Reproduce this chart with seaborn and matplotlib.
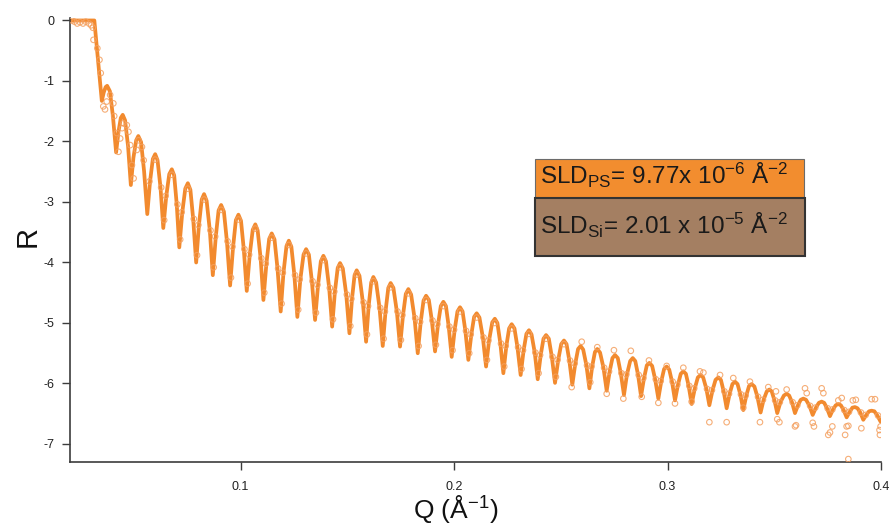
import matplotlib
matplotlib.use("Agg")
import matplotlib.pyplot as plt
from matplotlib.patches import Rectangle
import seaborn as sns
import pandas as pd

# ---------------- data ----------------
# fit curve: plateau, then per fringe: minimum, two rising points, maximum, two falling points
fit_q = [0.0201, 0.0315,
         0.0350, 0.0359, 0.0368, 0.0375, 0.0388, 0.0402,
         0.0417, 0.0428, 0.0439, 0.0448, 0.0459, 0.0473,
         0.0486, 0.0498, 0.0511, 0.0521, 0.0534, 0.0548,
         0.0563, 0.0576, 0.0589, 0.0600, 0.0611, 0.0625,
         0.0638, 0.0652, 0.0666, 0.0678, 0.0689, 0.0701,
         0.0713, 0.0727, 0.0741, 0.0753, 0.0765, 0.0778,
         0.0792, 0.0805, 0.0818, 0.0829, 0.0841, 0.0856,
         0.0870, 0.0884, 0.0897, 0.0909, 0.0922, 0.0936,
         0.0951, 0.0965, 0.0978, 0.0990, 0.1002, 0.1015,
         0.1029, 0.1043, 0.1057, 0.1069, 0.1080, 0.1094,
         0.1107, 0.1121, 0.1134, 0.1146, 0.1159, 0.1173,
         0.1188, 0.1201, 0.1215, 0.1226, 0.1238, 0.1252,
         0.1266, 0.1280, 0.1295, 0.1307, 0.1320, 0.1334,
         0.1349, 0.1363, 0.1376, 0.1388, 0.1400, 0.1415,
         0.1429, 0.1442, 0.1455, 0.1466, 0.1479, 0.1495,
         0.1510, 0.1522, 0.1534, 0.1544, 0.1557, 0.1573,
         0.1588, 0.1600, 0.1612, 0.1622, 0.1635, 0.1651,
         0.1666, 0.1679, 0.1692, 0.1703, 0.1716, 0.1732,
         0.1747, 0.1761, 0.1774, 0.1786, 0.1799, 0.1815,
         0.1830, 0.1844, 0.1857, 0.1869, 0.1882, 0.1896,
         0.1911, 0.1925, 0.1938, 0.1950, 0.1962, 0.1975,
         0.1989, 0.2003, 0.2016, 0.2028, 0.2040, 0.2053,
         0.2067, 0.2081, 0.2094, 0.2106, 0.2119, 0.2135,
         0.2150, 0.2164, 0.2179, 0.2191, 0.2203, 0.2217,
         0.2231, 0.2245, 0.2258, 0.2270, 0.2283, 0.2297,
         0.2312, 0.2326, 0.2339, 0.2351, 0.2363, 0.2378,
         0.2392, 0.2406, 0.2419, 0.2431, 0.2444, 0.2458,
         0.2473, 0.2488, 0.2502, 0.2515, 0.2527, 0.2540,
         0.2554, 0.2568, 0.2581, 0.2593, 0.2605, 0.2620,
         0.2634, 0.2647, 0.2660, 0.2671, 0.2684, 0.2700,
         0.2715, 0.2729, 0.2742, 0.2754, 0.2767, 0.2781,
         0.2796, 0.2810, 0.2825, 0.2837, 0.2849, 0.2862,
         0.2876, 0.2890, 0.2903, 0.2915, 0.2928, 0.2942,
         0.2957, 0.2971, 0.2984, 0.2996, 0.3008, 0.3021,
         0.3035, 0.3049, 0.3062, 0.3074, 0.3086, 0.3099,
         0.3113, 0.3128, 0.3142, 0.3155, 0.3167, 0.3182,
         0.3196, 0.3211, 0.3225, 0.3238, 0.3250, 0.3263,
         0.3277, 0.3291, 0.3304, 0.3316, 0.3328, 0.3341,
         0.3355, 0.3369, 0.3382, 0.3394, 0.3407, 0.3421,
         0.3436, 0.3450, 0.3465, 0.3477, 0.3488, 0.3501,
         0.3514, 0.3529, 0.3545, 0.3558, 0.3570, 0.3583,
         0.3597, 0.3611, 0.3624, 0.3636, 0.3649, 0.3665,
         0.3680, 0.3695, 0.3709, 0.3722, 0.3734, 0.3747,
         0.3761, 0.3775, 0.3788, 0.3800, 0.3812, 0.3825,
         0.3839, 0.3853, 0.3866, 0.3878, 0.3890, 0.3903,
         0.3917, 0.3931, 0.3944, 0.3956, 0.3969, 0.3983,
         0.3998]
fit_r = [0.00, 0.00,
         -1.33, -1.19, -1.10, -1.08, -1.17, -1.58,
         -2.18, -1.84, -1.61, -1.56, -1.65, -2.08,
         -2.72, -2.27, -1.98, -1.91, -2.01, -2.49,
         -3.20, -2.66, -2.29, -2.21, -2.31, -2.76,
         -3.43, -2.90, -2.54, -2.46, -2.56, -3.04,
         -3.75, -3.17, -2.78, -2.69, -2.80, -3.28,
         -4.00, -3.38, -2.96, -2.87, -2.98, -3.47,
         -4.21, -3.57, -3.14, -3.05, -3.16, -3.65,
         -4.38, -3.74, -3.30, -3.21, -3.31, -3.78,
         -4.47, -3.87, -3.46, -3.37, -3.47, -3.93,
         -4.62, -4.02, -3.61, -3.52, -3.62, -4.10,
         -4.81, -4.17, -3.73, -3.64, -3.74, -4.21,
         -4.90, -4.28, -3.87, -3.78, -3.87, -4.31,
         -4.95, -4.37, -3.98, -3.89, -3.98, -4.42,
         -5.06, -4.48, -4.09, -4.01, -4.10, -4.53,
         -5.17, -4.60, -4.21, -4.13, -4.22, -4.66,
         -5.31, -4.72, -4.33, -4.24, -4.33, -4.75,
         -5.38, -4.81, -4.42, -4.34, -4.42, -4.81,
         -5.39, -4.87, -4.52, -4.44, -4.53, -4.92,
         -5.50, -4.98, -4.63, -4.55, -4.62, -4.96,
         -5.47, -5.02, -4.72, -4.65, -4.72, -5.06,
         -5.56, -5.11, -4.81, -4.74, -4.81, -5.13,
         -5.61, -5.19, -4.90, -4.84, -4.91, -5.24,
         -5.72, -5.29, -4.99, -4.93, -5.00, -5.34,
         -5.83, -5.38, -5.09, -5.02, -5.09, -5.40,
         -5.86, -5.45, -5.18, -5.12, -5.19, -5.49,
         -5.93, -5.53, -5.26, -5.20, -5.26, -5.56,
         -5.99, -5.61, -5.35, -5.29, -5.35, -5.62,
         -6.02, -5.67, -5.43, -5.38, -5.44, -5.70,
         -6.08, -5.72, -5.48, -5.43, -5.49, -5.74,
         -6.12, -5.80, -5.58, -5.53, -5.58, -5.83,
         -6.19, -5.85, -5.63, -5.58, -5.63, -5.86,
         -6.21, -5.91, -5.70, -5.66, -5.71, -5.93,
         -6.25, -5.96, -5.76, -5.72, -5.77, -5.97,
         -6.28, -6.02, -5.84, -5.80, -5.84, -6.04,
         -6.34, -6.08, -5.90, -5.86, -5.90, -6.09,
         -6.36, -6.11, -5.94, -5.90, -5.94, -6.13,
         -6.41, -6.17, -6.01, -5.97, -6.01, -6.18,
         -6.44, -6.20, -6.04, -6.01, -6.05, -6.22,
         -6.48, -6.27, -6.13, -6.10, -6.13, -6.28,
         -6.49, -6.31, -6.20, -6.17, -6.20, -6.31,
         -6.49, -6.36, -6.27, -6.25, -6.27, -6.37,
         -6.52, -6.40, -6.32, -6.30, -6.32, -6.41,
         -6.54, -6.43, -6.36, -6.34, -6.36, -6.44,
         -6.56, -6.47, -6.40, -6.39, -6.41, -6.48,
         -6.60, -6.52, -6.46, -6.45, -6.46, -6.53,
         -6.63]

# measured data points (open circles): plateau, edge, extrema and outliers
data_q = [0.0210, 0.0222, 0.0235, 0.0248, 0.0262, 0.0275, 0.0290, 0.0300, 0.0308,
          0.0311, 0.0329, 0.0339, 0.0345, 0.0357, 0.0365, 0.0373, 0.0389, 0.0404,
          0.0408, 0.0420, 0.0428, 0.0436, 0.0445, 0.0451, 0.0467, 0.0475, 0.0483,
          0.0491, 0.0499, 0.0514, 0.0522, 0.0538, 0.0546,
          0.0600, 0.0642, 0.0678, 0.0717, 0.0753, 0.0796, 0.0829, 0.0874, 0.0909,
          0.0955, 0.0990, 0.1033, 0.1069, 0.1111, 0.1146, 0.1192, 0.1226, 0.1270,
          0.1307, 0.1353, 0.1388, 0.1433, 0.1466, 0.1514, 0.1544, 0.1592, 0.1622,
          0.1670, 0.1703, 0.1751, 0.1786, 0.1834, 0.1869, 0.1915, 0.1950, 0.1993,
          0.2028, 0.2071, 0.2106, 0.2154, 0.2191, 0.2235, 0.2270, 0.2316, 0.2351,
          0.2396, 0.2431, 0.2477, 0.2515,
          0.2551, 0.2598, 0.2638, 0.2671, 0.2715, 0.2749, 0.2793, 0.2828, 0.2879,
          0.2913, 0.2957, 0.2996, 0.3035, 0.3074, 0.3113, 0.3152, 0.3168, 0.3196,
          0.3246, 0.3277, 0.3308, 0.3355, 0.3386, 0.3433, 0.3472, 0.3508, 0.3514,
          0.3524, 0.3558, 0.3597, 0.3602, 0.3644, 0.3652, 0.3680, 0.3686, 0.3722,
          0.3730, 0.3753, 0.3761, 0.3772, 0.3800, 0.3816, 0.3832, 0.3839, 0.3847,
          0.3847, 0.3868, 0.3882, 0.3908, 0.3956, 0.3972, 0.3993, 0.3995, 0.3998]
data_r = [0.00, -0.02, -0.05, -0.03, -0.05, -0.02, -0.05, -0.08, -0.12,
          -0.32, -0.46, -0.65, -0.87, -1.42, -1.47, -1.34, -1.23, -1.37,
          -1.58, -1.86, -2.17, -1.95, -1.78, -1.70, -1.73, -1.84, -2.06,
          -2.39, -2.61, -2.14, -1.98, -2.09, -2.31,
          -2.30, -3.30, -2.55, -3.62, -2.78, -3.88, -2.96, -4.08, -3.13,
          -4.25, -3.29, -4.35, -3.44, -4.50, -3.59, -4.68, -3.71, -4.78,
          -3.85, -4.83, -3.96, -4.94, -4.08, -5.05, -4.20, -5.19, -4.31,
          -5.26, -4.41, -5.28, -4.51, -5.38, -4.62, -5.36, -4.72, -5.45,
          -4.81, -5.50, -4.91, -5.61, -5.00, -5.72, -5.09, -5.76, -5.18,
          -5.83, -5.26, -5.89, -5.35,
          -6.06, -5.31, -5.98, -5.40, -6.17, -5.45, -6.25, -5.46, -6.22,
          -5.62, -6.32, -5.71, -6.33, -5.74, -6.30, -5.80, -5.82, -6.64,
          -5.86, -6.64, -5.91, -6.40, -5.97, -6.64, -6.06, -6.13, -6.59,
          -6.64, -6.10, -6.71, -6.69, -6.08, -6.16, -6.65, -6.71, -6.08,
          -6.16, -6.85, -6.81, -6.71, -6.28, -6.24, -6.85, -6.71, -6.70,
          -7.25, -6.28, -6.27, -6.74, -6.26, -6.26, -6.77, -6.85, -6.71]

# measured data points on the fringe flanks
flank_q = [0.0573, 0.0649, 0.0724, 0.0802, 0.0881, 0.0962, 0.1040, 0.1118, 0.1198,
           0.1277, 0.1360, 0.1439, 0.1519, 0.1597, 0.1676, 0.1758, 0.1841, 0.1922,
           0.2000, 0.2078, 0.2161, 0.2242, 0.2323, 0.2403, 0.2485, 0.2565, 0.2644,
           0.2726, 0.2807, 0.2887, 0.2968, 0.3046, 0.3125, 0.3208, 0.3288, 0.3366,
           0.3447, 0.3526, 0.3608, 0.3692, 0.3772, 0.3850, 0.3928,
           0.0628, 0.0704, 0.0781, 0.0859, 0.0939, 0.1018, 0.1097, 0.1176, 0.1255,
           0.1337, 0.1418, 0.1498, 0.1576, 0.1654, 0.1735, 0.1818, 0.1899, 0.1978,
           0.2056, 0.2138, 0.2220, 0.2300, 0.2381, 0.2461, 0.2543, 0.2623, 0.2703,
           0.2784, 0.2865, 0.2945, 0.3024, 0.3102, 0.3185, 0.3266, 0.3344, 0.3424,
           0.3504, 0.3586, 0.3668, 0.3750, 0.3828, 0.3906, 0.3986]
flank_r = [-2.66, -2.90, -3.17, -3.38, -3.57, -3.74, -3.87, -4.02, -4.17,
           -4.28, -4.37, -4.48, -4.60, -4.72, -4.81, -4.87, -4.98, -5.02,
           -5.11, -5.19, -5.29, -5.38, -5.45, -5.53, -5.61, -5.67, -5.72,
           -5.80, -5.85, -5.91, -5.96, -6.02, -6.08, -6.11, -6.17, -6.20,
           -6.27, -6.31, -6.36, -6.40, -6.43, -6.47, -6.52,
           -2.76, -3.04, -3.28, -3.47, -3.65, -3.78, -3.93, -4.10, -4.21,
           -4.31, -4.42, -4.53, -4.66, -4.75, -4.81, -4.92, -4.96, -5.06,
           -5.13, -5.24, -5.34, -5.40, -5.49, -5.56, -5.62, -5.70, -5.74,
           -5.83, -5.86, -5.93, -5.97, -6.04, -6.09, -6.13, -6.18, -6.22,
           -6.28, -6.31, -6.37, -6.41, -6.44, -6.48, -6.53]

x_ticks = [0.1, 0.2, 0.3, 0.4]
x_tick_labels = ["0.1", "0.2", "0.3", "0.4"]
y_ticks = [0, -1, -2, -3, -4, -5, -6, -7]
y_tick_labels = ["0", "-1", "-2", "-3", "-4", "-5", "-6", "-7"]

box_texts = [r"SLD$_{\mathrm{PS}}$= 9.77x 10$^{-6}$ Å$^{-2}$",
             r"SLD$_{\mathrm{Si}}$= 2.01 x 10$^{-5}$ Å$^{-2}$"]

fit_df = pd.DataFrame({"Q": fit_q, "R": fit_r})
data_df = pd.concat([pd.DataFrame({"Q": data_q, "R": data_r}),
                     pd.DataFrame({"Q": flank_q, "R": flank_r})],
                    ignore_index=True)

# ---------------- style ----------------
sns.set_theme(style="white")
plt.rcParams["font.family"] = ["Liberation Sans", "DejaVu Sans"]
plt.rcParams["mathtext.fontset"] = "custom"
plt.rcParams["mathtext.rm"] = "Liberation Sans"
plt.rcParams["mathtext.it"] = "Liberation Sans:italic"
plt.rcParams["mathtext.bf"] = "Liberation Sans:bold"

LINE_COL = "#F28A2E"
DOT_COL = "#F4A060"
AX_COL = "#3c3c3c"

W, H = 891, 526
fig = plt.figure(figsize=(W / 100, H / 100), dpi=100)
ax = fig.add_axes([70 / W, 1 - 462 / H, (881 - 70) / W, (462 - 18) / H])

sns.lineplot(data=fit_df, x="Q", y="R", sort=False, color=LINE_COL,
             linewidth=2.7, ax=ax, zorder=2)
sns.scatterplot(data=data_df, x="Q", y="R", marker="o", s=16,
                facecolor="none", edgecolor=DOT_COL, linewidth=0.8,
                alpha=0.85, ax=ax, zorder=3)

ax.set_xlim(0.0201, 0.4)
ax.set_ylim(-7.298, 0.041)
ax.set_xticks(x_ticks)
ax.set_xticklabels(x_tick_labels)
ax.set_yticks(y_ticks)
ax.set_yticklabels(y_tick_labels)
ax.set_xlabel("")
ax.set_ylabel("")

for side in ["top", "right"]:
    ax.spines[side].set_visible(False)
for side in ["left", "bottom"]:
    ax.spines[side].set_color(AX_COL)
    ax.spines[side].set_linewidth(1.2)

ax.tick_params(axis="both", direction="out", length=6, width=1,
               color=AX_COL, labelsize=9, labelcolor="#222222")
ax.tick_params(axis="x", pad=8, bottom=True)
ax.tick_params(axis="y", pad=5, left=True)

fig.text(28 / W, 1 - 236 / H, "R", rotation=90, ha="center", va="center",
         fontsize=21, color="#111111")
fig.text(456 / W, 1 - 509 / H, "Q (Å$^{-1}$)", ha="center", va="center",
         fontsize=19, color="#111111")

# annotation boxes
fig.add_artist(Rectangle((535 / W, 1 - 198 / H), 269 / W, 39 / H,
                         transform=fig.transFigure, facecolor="#F28D2F",
                         edgecolor="#6b6b6b", linewidth=0.8, zorder=5))
fig.add_artist(Rectangle((535 / W, 1 - 256 / H), 270 / W, 58 / H,
                         transform=fig.transFigure, facecolor="#A47F62",
                         edgecolor="#333333", linewidth=1.5, zorder=5))
fig.text(540 / W, 1 - 184 / H, box_texts[0], ha="left", va="baseline",
         fontsize=17.5, color="#1a1a1a", zorder=6)
fig.text(540 / W, 1 - 234 / H, box_texts[1], ha="left", va="baseline",
         fontsize=17.5, color="#1a1a1a", zorder=6)

fig.savefig("out.png", dpi=100)
